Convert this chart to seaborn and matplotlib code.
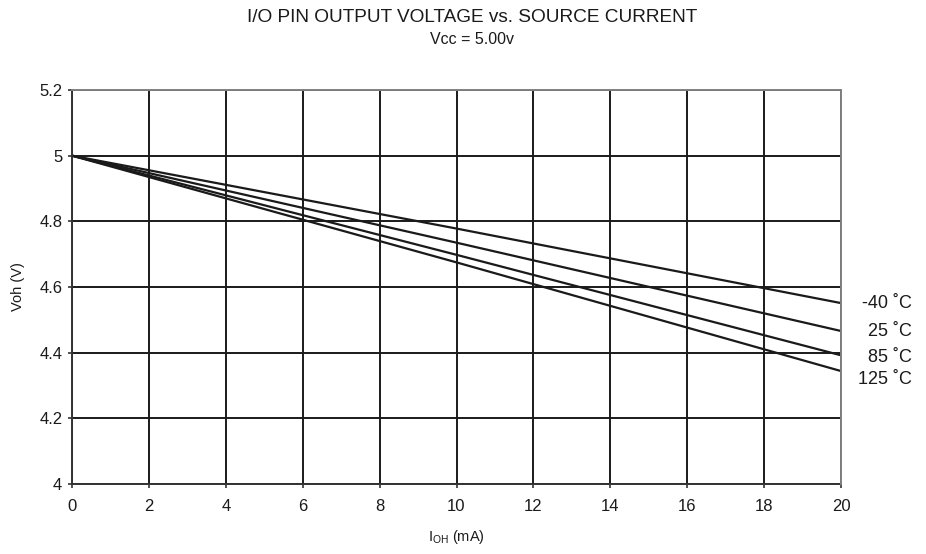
import matplotlib
matplotlib.use("Agg")
import matplotlib.pyplot as plt
import seaborn as sns
import pandas as pd

# Data
current_ma = [0, 10, 20]
temps = ["-40 ˚C", "25 ˚C", "85 ˚C", "125 ˚C"]
voh_m40 = [5.00, 4.778, 4.551]
voh_25 = [5.00, 4.735, 4.466]
voh_85 = [5.00, 4.698, 4.392]
voh_125 = [5.00, 4.675, 4.344]
x_ticks = [0, 2, 4, 6, 8, 10, 12, 14, 16, 18, 20]
y_ticks = [4, 4.2, 4.4, 4.6, 4.8, 5, 5.2]
y_tick_labels = ["4", "4.2", "4.4", "4.6", "4.8", "5", "5.2"]

series = [voh_m40, voh_25, voh_85, voh_125]
rows = []
for t, vals in zip(temps, series):
    for x, v in zip(current_ma, vals):
        rows.append({"I": x, "V": v, "T": t})
df = pd.DataFrame(rows)

sns.set_theme(style="white")
plt.rcParams["font.family"] = ["Liberation Sans", "DejaVu Sans"]
plt.rcParams["mathtext.fontset"] = "custom"
plt.rcParams["mathtext.rm"] = "Liberation Sans"

fig = plt.figure(figsize=(9.26, 5.54), dpi=100)
ax = fig.add_axes([72 / 926, 1 - 484 / 554, (841 - 72) / 926, (484 - 90) / 554])

sns.lineplot(data=df, x="I", y="V", hue="T", palette=["#1a1a1a"] * 4,
             linewidth=1.6, legend=False, ax=ax)

ax.set_xlim(0, 20)
ax.set_ylim(4, 5.2)
ax.set_xticks(x_ticks)
ax.set_xticklabels([str(v) for v in x_ticks])
ax.set_yticks(y_ticks)
ax.set_yticklabels(y_tick_labels)
ax.grid(True, color="#1a1a1a", linewidth=1.4)
ax.set_axisbelow(True)

for s in ["left", "bottom"]:
    ax.spines[s].set_color("#333333")
    ax.spines[s].set_linewidth(1.4)
for s in ["top", "right"]:
    ax.spines[s].set_color("#808080")
    ax.spines[s].set_linewidth(1.4)
    ax.spines[s].set_zorder(3)

ax.tick_params(axis="both", which="major", direction="out", length=3, width=1.2,
               color="#333333", labelsize=12, labelcolor="#1a1a1a",
               left=True, bottom=True)
ax.tick_params(axis="y", pad=4)
ax.tick_params(axis="x", pad=8)

ax.set_xlabel(r"$\mathregular{I_{OH}}$ (mA)", fontsize=10.5, color="#1a1a1a", va="center")
ax.set_ylabel("Voh (V)", fontsize=10.5, color="#1a1a1a", va="center")
ax.xaxis.set_label_coords(0.5, (484 - 537) / 394)
ax.yaxis.set_label_coords((18 - 72) / 769, 0.5)

label_y_px = [303, 332, 357, 380]
for t, py in zip(temps, label_y_px):
    fig.text(912 / 926, 1 - py / 554, t, ha="right", va="center", fontsize=13,
             color="#1a1a1a")

fig.text(472 / 926, 1 - 17 / 554, "I/O PIN OUTPUT VOLTAGE vs. SOURCE CURRENT",
         ha="center", va="center", fontsize=13.7, color="#1a1a1a")
fig.text(472 / 926, 1 - 39.5 / 554, "Vcc = 5.00v", ha="center", va="center",
         fontsize=11.5, color="#1a1a1a")

fig.savefig("out.png", dpi=100)
